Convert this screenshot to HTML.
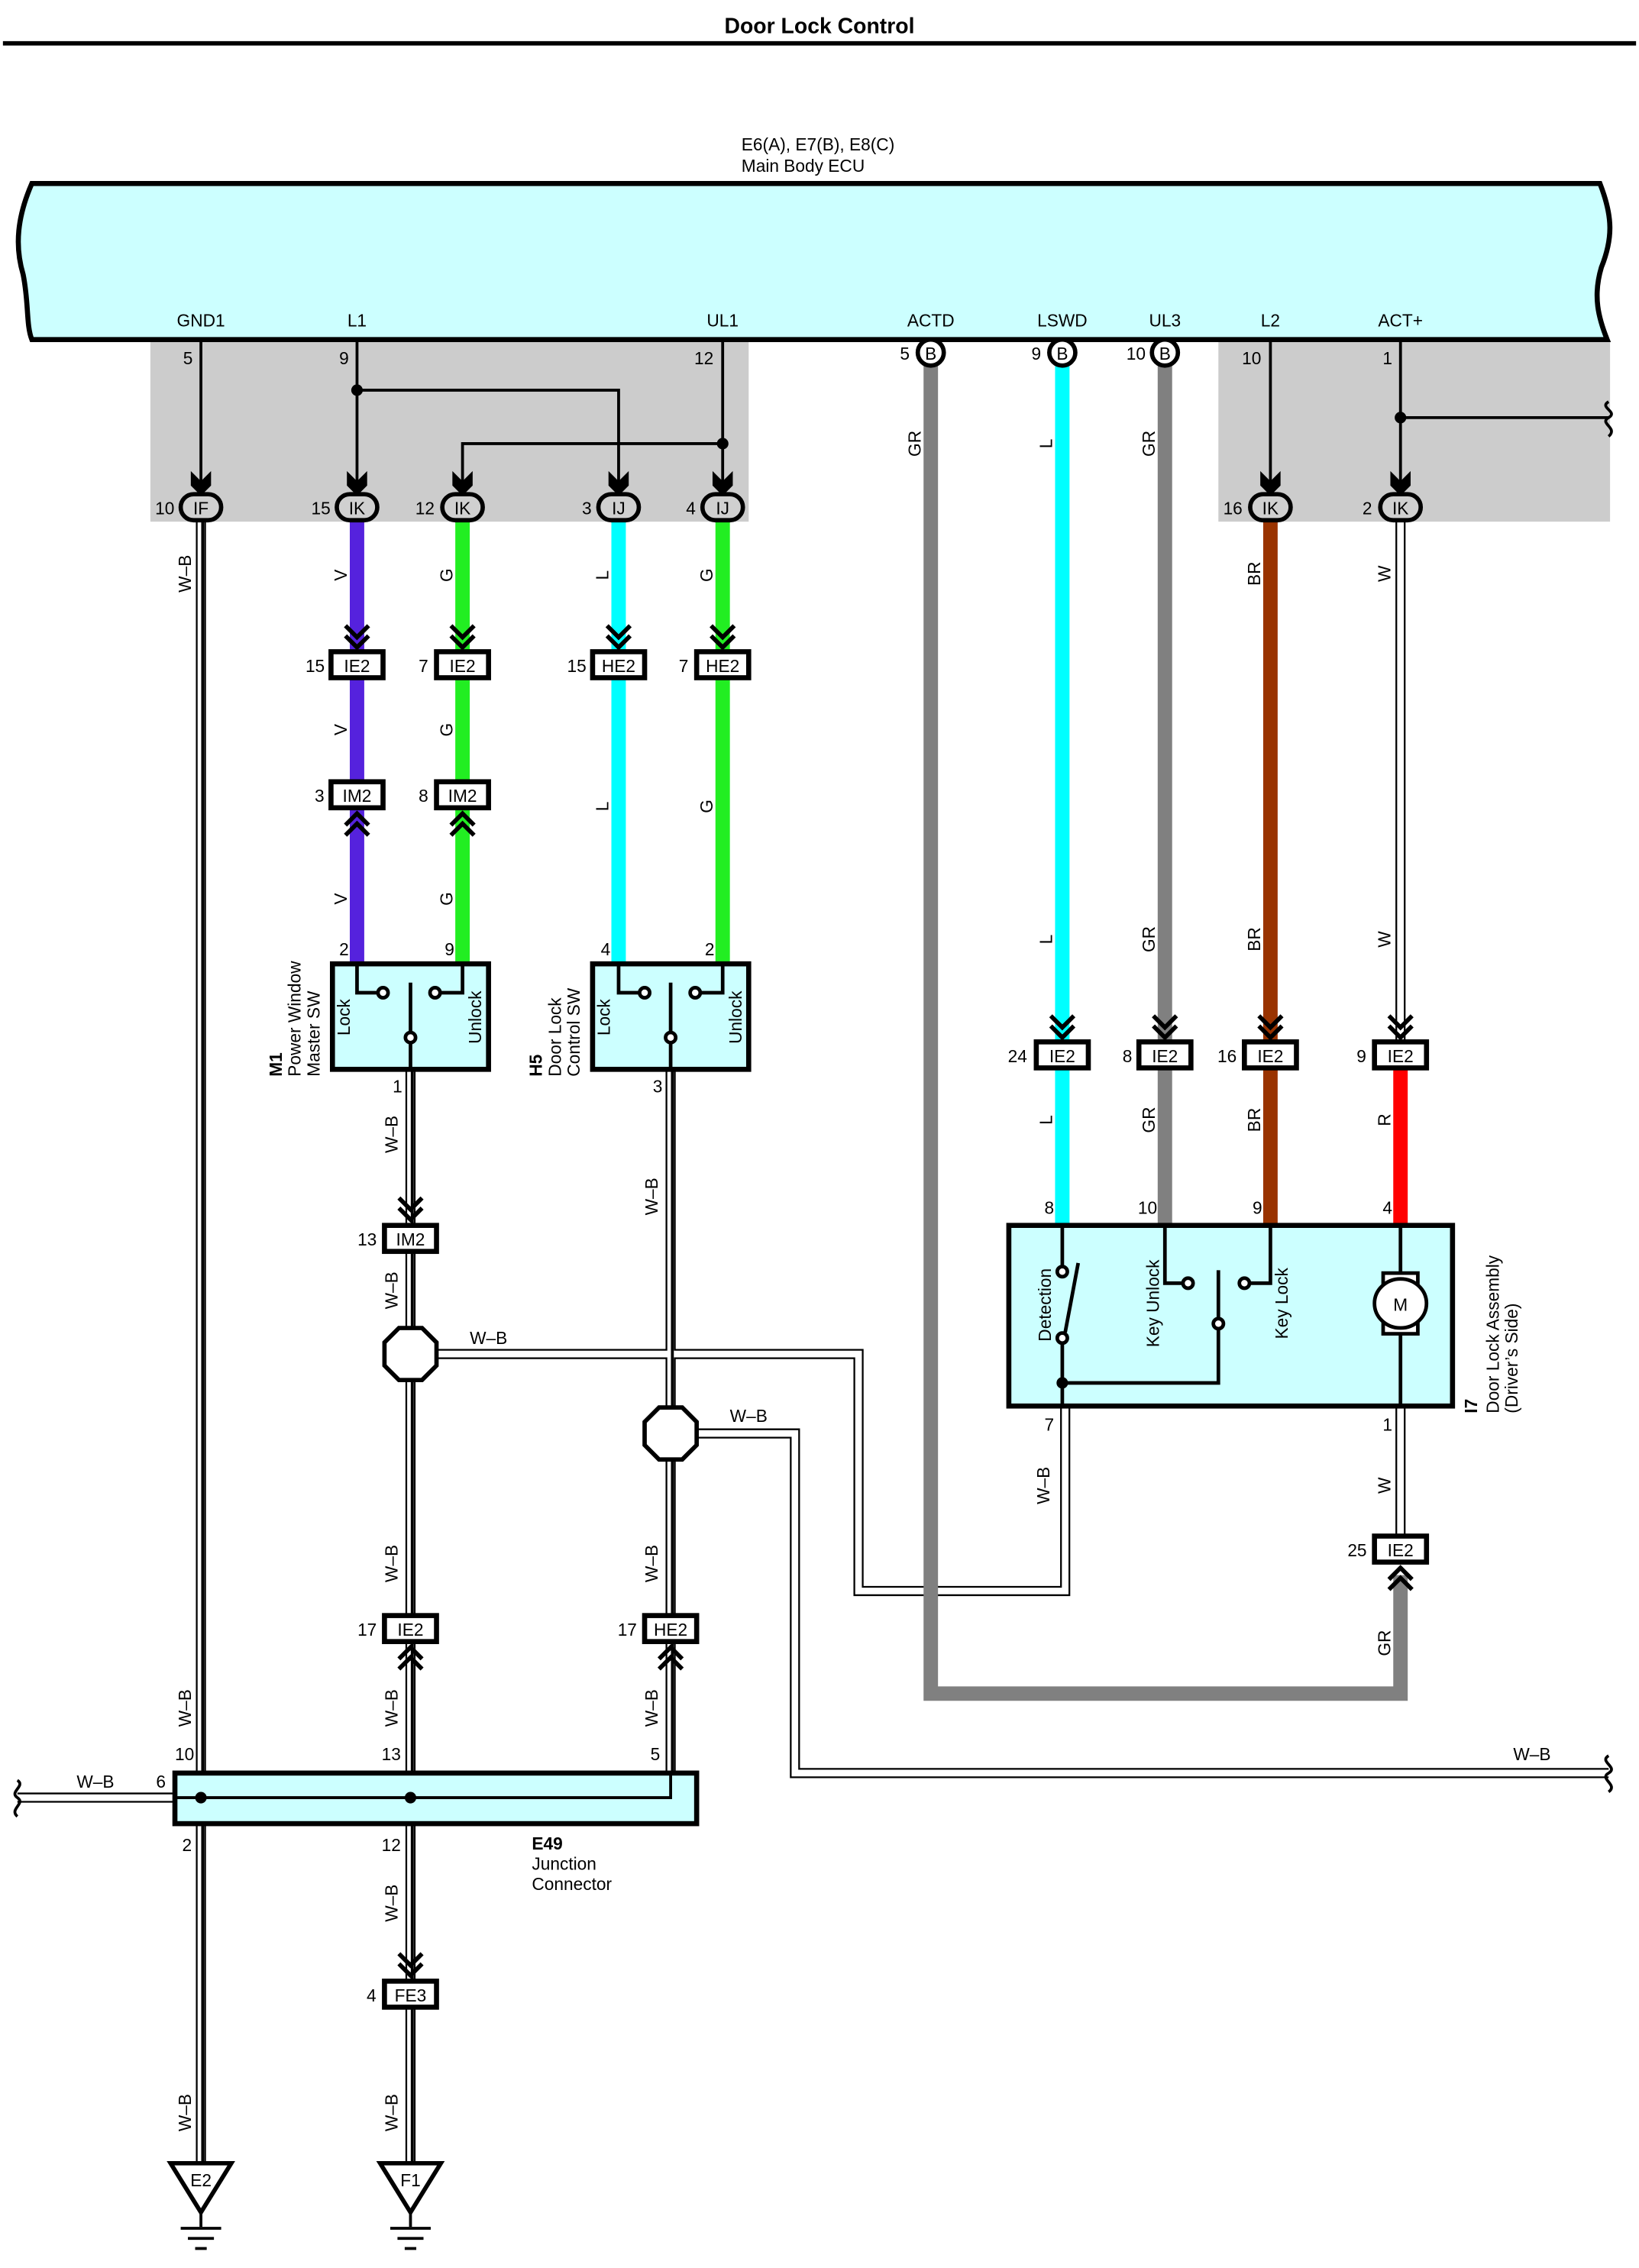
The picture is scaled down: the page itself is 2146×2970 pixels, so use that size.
<!DOCTYPE html>
<html><head><meta charset="utf-8">
<style>
html,body{margin:0;padding:0;background:#fff;}
svg{display:block;}
text{font-family:"Liberation Sans",Arial,sans-serif;fill:#000;}
.t{font-size:12px;}
.dwo{fill:none;stroke:#000;stroke-width:7;}
.dwi{fill:none;stroke:#fff;stroke-width:4.6;}
.dws{fill:none;stroke:#000;stroke-width:2;}
.bl{fill:none;stroke:#000;stroke-width:2;}
.box{fill:#fff;stroke:#000;stroke-width:3.5;}
.ov{fill:#d0d0d0;stroke:#000;stroke-width:3;}
.sw{fill:#ccffff;stroke:#000;stroke-width:3.5;}
</style></head>
<body>
<svg width="2146" height="2970" viewBox="0 0 1134 1569.5" xmlns="http://www.w3.org/2000/svg">
<defs>
<path id="w1" fill="none" d="M139,360 L139,1497"/>
<path id="w2" fill="none" d="M284,740 L284,1497"/>
<path id="w3" fill="none" d="M464,740 L464,1244"/>
<path id="w4" fill="none" d="M284,937 L594,937 L594,1101 L737,1101 L737,973"/>
<path id="w5" fill="none" d="M464,992 L550,992 L550,1227 L1113,1227"/>
<path id="w6" fill="none" d="M12,1244 L139,1244"/>
</defs>
<text x="567" y="23" text-anchor="middle" style="font-size:15px;font-weight:bold">Door Lock Control</text>
<line x1="2" y1="30" x2="1132" y2="30" stroke="#000" stroke-width="3"/>

<text x="513" y="104" class="t">E6(A), E7(B), E8(C)</text>
<text x="513" y="119" class="t">Main Body ECU</text>

<rect x="104" y="235" width="414" height="126" fill="#cccccc"/>
<rect x="843" y="235" width="271" height="126" fill="#cccccc"/>

<path d="M22,127 C12,150 10,170 16,190 C20,210 18,225 22,235 L1112,235 C1106,220 1102,205 1108,185 C1116,165 1116,150 1107,127 Z" fill="#ccffff" stroke="#000" stroke-width="3.5"/>
<g class="t" text-anchor="middle">
<text x="139" y="226">GND1</text><text x="247" y="226">L1</text><text x="500" y="226">UL1</text>
<text x="644" y="226">ACTD</text><text x="735" y="226">LSWD</text><text x="806" y="226">UL3</text>
<text x="879" y="226">L2</text><text x="969" y="226">ACT+</text>
</g>

<g class="bl">
<polyline points="139,236 139,340"/>
<polyline points="247,236 247,340"/>
<polyline points="247,270 428,270 428,340"/>
<polyline points="500,236 500,340"/>
<polyline points="500,307 320,307 320,340"/>
<polyline points="879,236 879,340"/>
<polyline points="969,236 969,340"/>
<polyline points="969,289 1113,289"/>
</g>
<path d="M1113,278 C1106,282 1120,285 1113,289 C1106,293 1120,296 1113,302" fill="none" stroke="#000" stroke-width="2"/>
<circle cx="247" cy="270" r="4"/><circle cx="500" cy="307" r="4"/><circle cx="969" cy="289" r="4"/>

<g fill="none" stroke-width="10">
<line x1="247" y1="360" x2="247" y2="667" stroke="#5522dd"/>
<line x1="320" y1="360" x2="320" y2="667" stroke="#22ee22"/>
<line x1="428" y1="360" x2="428" y2="667" stroke="#00ffff"/>
<line x1="500" y1="360" x2="500" y2="667" stroke="#22ee22"/>
<line x1="735" y1="253" x2="735" y2="848" stroke="#00ffff"/>
<line x1="806" y1="253" x2="806" y2="848" stroke="#808080"/>
<line x1="879" y1="360" x2="879" y2="848" stroke="#993300"/>
<line x1="969" y1="740" x2="969" y2="848" stroke="#ff0000"/>
</g>

<g>
<line x1="969" y1="360" x2="969" y2="722" class="dwo"/><line x1="969" y1="360" x2="969" y2="722" class="dwi"/>
<line x1="969" y1="973" x2="969" y2="1064" class="dwo"/><line x1="969" y1="973" x2="969" y2="1064" class="dwi"/>
</g>

<g class="dwo"><use href="#w1"/><use href="#w2"/><use href="#w3"/><use href="#w4"/><use href="#w5"/><use href="#w6"/></g>
<g class="dwi"><use href="#w1"/><use href="#w2"/><use href="#w3"/><use href="#w4"/><use href="#w5"/><use href="#w6"/></g>
<g class="dws"><use href="#w1" transform="translate(1.2,0)"/><use href="#w2" transform="translate(1.2,0)"/><use href="#w3" transform="translate(1.2,0)"/></g>
<path d="M1113,1215 C1106,1219 1120,1223 1113,1227 C1106,1231 1120,1235 1113,1240" fill="none" stroke="#000" stroke-width="2"/>
<path d="M12,1232 C18,1236 6,1240 12,1244 C18,1248 6,1252 12,1257" fill="none" stroke="#000" stroke-width="2"/>

<polyline points="644,253 644,1172 969,1172 969,1090" fill="none" stroke="#808080" stroke-width="10"/>

<g fill="#000">
<polygon points="132,326 139,333 146,326 146,336 139,343 132,336"/>
<polygon points="240,326 247,333 254,326 254,336 247,343 240,336"/>
<polygon points="313,326 320,333 327,326 327,336 320,343 313,336"/>
<polygon points="421,326 428,333 435,326 435,336 428,343 421,336"/>
<polygon points="493,326 500,333 507,326 507,336 500,343 493,336"/>
<polygon points="872,326 879,333 886,326 886,336 879,343 872,336"/>
<polygon points="962,326 969,333 976,326 976,336 969,343 962,336"/>
</g>
<g class="t" text-anchor="middle">
<rect x="125" y="342" width="28" height="18" rx="9" class="ov"/><text x="139" y="356">IF</text><text x="114" y="356">10</text>
<rect x="233" y="342" width="28" height="18" rx="9" class="ov"/><text x="247" y="356">IK</text><text x="222" y="356">15</text>
<rect x="306" y="342" width="28" height="18" rx="9" class="ov"/><text x="320" y="356">IK</text><text x="294" y="356">12</text>
<rect x="414" y="342" width="28" height="18" rx="9" class="ov"/><text x="428" y="356">IJ</text><text x="406" y="356">3</text>
<rect x="486" y="342" width="28" height="18" rx="9" class="ov"/><text x="500" y="356">IJ</text><text x="478" y="356">4</text>
<rect x="865" y="342" width="28" height="18" rx="9" class="ov"/><text x="879" y="356">IK</text><text x="853" y="356">16</text>
<rect x="955" y="342" width="28" height="18" rx="9" class="ov"/><text x="969" y="356">IK</text><text x="946" y="356">2</text>
<circle cx="644" cy="244" r="9" fill="#fff" stroke="#000" stroke-width="3"/><text x="644" y="249">B</text><text x="626" y="249">5</text>
<circle cx="735" cy="244" r="9" fill="#fff" stroke="#000" stroke-width="3"/><text x="735" y="249">B</text><text x="717" y="249">9</text>
<circle cx="806" cy="244" r="9" fill="#fff" stroke="#000" stroke-width="3"/><text x="806" y="249">B</text><text x="786" y="249">10</text>
<text x="130" y="252">5</text><text x="238" y="252">9</text><text x="487" y="252">12</text>
<text x="866" y="252">10</text><text x="960" y="252">1</text>
</g>

<g fill="none" stroke="#000" stroke-width="3">
<path d="M239,433 l8,8 l8,-8 M239,440 l8,8 l8,-8"/>
<path d="M312,433 l8,8 l8,-8 M312,440 l8,8 l8,-8"/>
<path d="M420,433 l8,8 l8,-8 M420,440 l8,8 l8,-8"/>
<path d="M492,433 l8,8 l8,-8 M492,440 l8,8 l8,-8"/>
<path d="M727,703 l8,8 l8,-8 M727,710 l8,8 l8,-8"/>
<path d="M798,703 l8,8 l8,-8 M798,710 l8,8 l8,-8"/>
<path d="M871,703 l8,8 l8,-8 M871,710 l8,8 l8,-8"/>
<path d="M961,703 l8,8 l8,-8 M961,710 l8,8 l8,-8"/>
<path d="M276,829 l8,8 l8,-8 M276,836 l8,8 l8,-8"/>
<path d="M276,1352 l8,8 l8,-8 M276,1359 l8,8 l8,-8"/>
<path d="M239,578 l8,-8 l8,8 M239,571 l8,-8 l8,8"/>
<path d="M312,578 l8,-8 l8,8 M312,571 l8,-8 l8,8"/>
<path d="M276,1155 l8,-8 l8,8 M276,1148 l8,-8 l8,8"/>
<path d="M456,1155 l8,-8 l8,8 M456,1148 l8,-8 l8,8"/>
<path d="M961,1100 l8,-8 l8,8 M961,1093 l8,-8 l8,8"/>
</g>

<g class="t" text-anchor="middle">
<rect x="229" y="451" width="36" height="18" class="box"/><text x="247" y="465">IE2</text><text x="218" y="465">15</text>
<rect x="302" y="451" width="36" height="18" class="box"/><text x="320" y="465">IE2</text><text x="293" y="465">7</text>
<rect x="410" y="451" width="36" height="18" class="box"/><text x="428" y="465">HE2</text><text x="399" y="465">15</text>
<rect x="482" y="451" width="36" height="18" class="box"/><text x="500" y="465">HE2</text><text x="473" y="465">7</text>
<rect x="229" y="541" width="36" height="18" class="box"/><text x="247" y="555">IM2</text><text x="221" y="555">3</text>
<rect x="302" y="541" width="36" height="18" class="box"/><text x="320" y="555">IM2</text><text x="293" y="555">8</text>
<rect x="717" y="721" width="36" height="18" class="box"/><text x="735" y="735">IE2</text><text x="704" y="735">24</text>
<rect x="788" y="721" width="36" height="18" class="box"/><text x="806" y="735">IE2</text><text x="780" y="735">8</text>
<rect x="861" y="721" width="36" height="18" class="box"/><text x="879" y="735">IE2</text><text x="849" y="735">16</text>
<rect x="951" y="721" width="36" height="18" class="box"/><text x="969" y="735">IE2</text><text x="942" y="735">9</text>
<rect x="266" y="848" width="36" height="18" class="box"/><text x="284" y="862">IM2</text><text x="254" y="862">13</text>
<rect x="951" y="1063" width="36" height="18" class="box"/><text x="969" y="1077">IE2</text><text x="939" y="1077">25</text>
<rect x="266" y="1118" width="36" height="18" class="box"/><text x="284" y="1132">IE2</text><text x="254" y="1132">17</text>
<rect x="446" y="1118" width="36" height="18" class="box"/><text x="464" y="1132">HE2</text><text x="434" y="1132">17</text>
<rect x="266" y="1371" width="36" height="18" class="box"/><text x="284" y="1385">FE3</text><text x="257" y="1385">4</text>
</g>

<rect x="230" y="667" width="108" height="73" class="sw"/>
<rect x="410" y="667" width="108" height="73" class="sw"/>
<g fill="none" stroke="#000" stroke-width="2.5">
<polyline points="247,667 247,687 262,687"/>
<polyline points="320,667 320,687 304,687"/>
<line x1="284" y1="680" x2="284" y2="740"/>
<polyline points="428,667 428,687 443,687"/>
<polyline points="500,667 500,687 484,687"/>
<line x1="464" y1="680" x2="464" y2="740"/>
</g>
<g fill="#fff" stroke="#000" stroke-width="2.5">
<circle cx="265" cy="687" r="3.5"/><circle cx="301" cy="687" r="3.5"/><circle cx="284" cy="718" r="3.5"/>
<circle cx="446" cy="687" r="3.5"/><circle cx="481" cy="687" r="3.5"/><circle cx="464" cy="718" r="3.5"/>
</g>
<g class="t" text-anchor="middle">
<text transform="translate(242,704) rotate(-90)">Lock</text>
<text transform="translate(333,704) rotate(-90)">Unlock</text>
<text transform="translate(422,704) rotate(-90)">Lock</text>
<text transform="translate(513,704) rotate(-90)">Unlock</text>
<text x="238" y="661">2</text><text x="311" y="661">9</text><text x="419" y="661">4</text><text x="491" y="661">2</text>
<text x="275" y="756">1</text><text x="455" y="756">3</text>
</g>
<g class="t">
<text transform="translate(195,745) rotate(-90)" style="font-weight:bold">M1</text>
<text transform="translate(208,745) rotate(-90)">Power Window</text>
<text transform="translate(221,745) rotate(-90)">Master SW</text>
<text transform="translate(375,745) rotate(-90)" style="font-weight:bold">H5</text>
<text transform="translate(388,745) rotate(-90)">Door Lock</text>
<text transform="translate(401,745) rotate(-90)">Control SW</text>
</g>

<rect x="698" y="848" width="307" height="125" class="sw"/>
<g fill="none" stroke="#000" stroke-width="2.5">
<line x1="735" y1="848" x2="735" y2="877"/>
<line x1="746" y1="874" x2="737" y2="922"/>
<line x1="735" y1="930" x2="735" y2="973"/>
<polyline points="735,957 843,957 843,920"/>
<line x1="843" y1="912" x2="843" y2="879"/>
<polyline points="806,848 806,888 818,888"/>
<polyline points="879,848 879,888 865,888"/>
<line x1="969" y1="848" x2="969" y2="882"/>
<line x1="969" y1="922" x2="969" y2="973"/>
</g>
<circle cx="735" cy="957" r="4"/>
<g fill="#fff" stroke="#000" stroke-width="2.5">
<circle cx="735" cy="880" r="3.5"/><circle cx="735" cy="926" r="3.5"/>
<circle cx="843" cy="916" r="3.5"/><circle cx="822" cy="888" r="3.5"/><circle cx="861" cy="888" r="3.5"/>
<rect x="957" y="881" width="24" height="8"/><rect x="957" y="915" width="24" height="8"/>
<ellipse cx="969" cy="902" rx="18" ry="17"/>
</g>
<g class="t" text-anchor="middle">
<text x="969" y="907">M</text>
<text transform="translate(727,903) rotate(-90)">Detection</text>
<text transform="translate(802,902) rotate(-90)">Key Unlock</text>
<text transform="translate(891,902) rotate(-90)">Key Lock</text>
<text x="726" y="840">8</text><text x="794" y="840">10</text><text x="870" y="840">9</text><text x="960" y="840">4</text>
<text x="726" y="990">7</text><text x="960" y="990">1</text>
</g>
<g class="t">
<text transform="translate(1022,978) rotate(-90)" style="font-weight:bold">I7</text>
<text transform="translate(1037,978) rotate(-90)">Door Lock Assembly</text>
<text transform="translate(1050,978) rotate(-90)">(Driver’s Side)</text>
</g>

<polygon points="276,919 292,919 302,929 302,945 292,955 276,955 266,945 266,929" fill="#fff" stroke="#000" stroke-width="3"/>
<polygon points="456,974 472,974 482,984 482,1000 472,1010 456,1010 446,1000 446,984" fill="#fff" stroke="#000" stroke-width="3"/>

<rect x="121" y="1227" width="361" height="35" class="sw"/>
<polyline points="121,1244 464,1244 464,1227" fill="none" stroke="#000" stroke-width="2"/>
<circle cx="139" cy="1244" r="4"/><circle cx="284" cy="1244" r="4"/>
<g class="t">
<text x="108" y="1237">6</text><text x="121" y="1218">10</text><text x="264" y="1218">13</text><text x="450" y="1218">5</text>
<text x="126" y="1281">2</text><text x="264" y="1281">12</text>
<text x="368" y="1280" style="font-weight:bold">E49</text>
<text x="368" y="1294">Junction</text>
<text x="368" y="1308">Connector</text>
</g>

<g fill="#fff" stroke="#000" stroke-width="3">
<polygon points="118,1497 160,1497 139,1531"/>
<polygon points="263,1497 305,1497 284,1531"/>
</g>
<g stroke="#000" stroke-width="2">
<line x1="139" y1="1531" x2="139" y2="1541"/><line x1="125" y1="1542" x2="153" y2="1542"/><line x1="130" y1="1549" x2="148" y2="1549"/><line x1="135" y1="1556" x2="143" y2="1556"/>
<line x1="284" y1="1531" x2="284" y2="1541"/><line x1="270" y1="1542" x2="298" y2="1542"/><line x1="275" y1="1549" x2="293" y2="1549"/><line x1="280" y1="1556" x2="288" y2="1556"/>
</g>
<g class="t" text-anchor="middle"><text x="139" y="1513">E2</text><text x="284" y="1513">F1</text></g>

<g class="t" text-anchor="middle">
<text transform="translate(132,397) rotate(-90)">W–B</text>
<text transform="translate(132,1182) rotate(-90)">W–B</text>
<text transform="translate(132,1462) rotate(-90)">W–B</text>
<text transform="translate(275,785) rotate(-90)">W–B</text>
<text transform="translate(275,893) rotate(-90)">W–B</text>
<text transform="translate(275,1082) rotate(-90)">W–B</text>
<text transform="translate(275,1182) rotate(-90)">W–B</text>
<text transform="translate(275,1317) rotate(-90)">W–B</text>
<text transform="translate(275,1462) rotate(-90)">W–B</text>
<text transform="translate(455,828) rotate(-90)">W–B</text>
<text transform="translate(455,1082) rotate(-90)">W–B</text>
<text transform="translate(455,1182) rotate(-90)">W–B</text>
<text transform="translate(726,1028) rotate(-90)">W–B</text>
<text x="338" y="930">W–B</text><text x="518" y="984">W–B</text>
<text x="66" y="1237">W–B</text><text x="1060" y="1218">W–B</text>
<text transform="translate(240,398) rotate(-90)">V</text>
<text transform="translate(240,505) rotate(-90)">V</text>
<text transform="translate(240,622) rotate(-90)">V</text>
<text transform="translate(313,398) rotate(-90)">G</text>
<text transform="translate(313,505) rotate(-90)">G</text>
<text transform="translate(313,622) rotate(-90)">G</text>
<text transform="translate(421,398) rotate(-90)">L</text>
<text transform="translate(421,558) rotate(-90)">L</text>
<text transform="translate(493,398) rotate(-90)">G</text>
<text transform="translate(493,558) rotate(-90)">G</text>
<text transform="translate(637,307) rotate(-90)">GR</text>
<text transform="translate(728,307) rotate(-90)">L</text>
<text transform="translate(728,650) rotate(-90)">L</text>
<text transform="translate(728,775) rotate(-90)">L</text>
<text transform="translate(799,307) rotate(-90)">GR</text>
<text transform="translate(799,650) rotate(-90)">GR</text>
<text transform="translate(799,775) rotate(-90)">GR</text>
<text transform="translate(872,397) rotate(-90)">BR</text>
<text transform="translate(872,650) rotate(-90)">BR</text>
<text transform="translate(872,775) rotate(-90)">BR</text>
<text transform="translate(962,397) rotate(-90)">W</text>
<text transform="translate(962,650) rotate(-90)">W</text>
<text transform="translate(962,775) rotate(-90)">R</text>
<text transform="translate(962,1028) rotate(-90)">W</text>
<text transform="translate(962,1137) rotate(-90)">GR</text>
</g>
</svg>
</body></html>
